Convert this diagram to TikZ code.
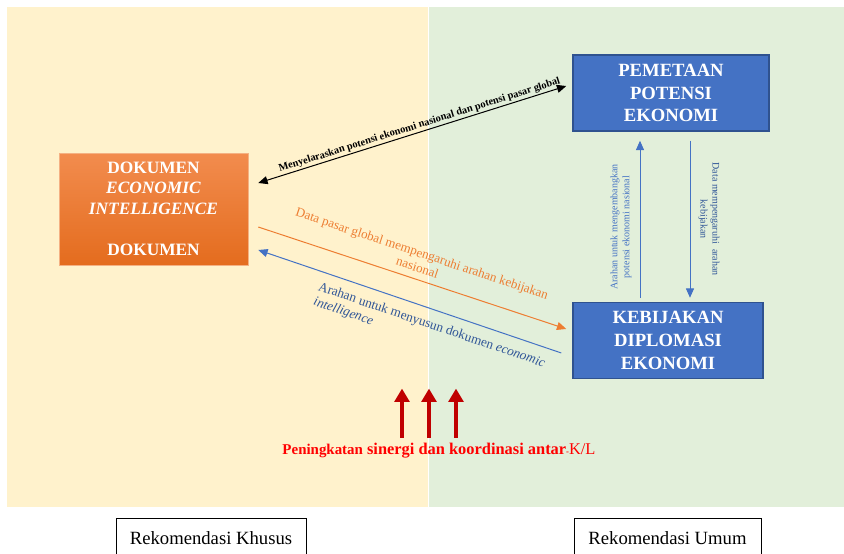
\documentclass[tikz,border=0pt]{standalone}
\usepackage{fontspec}
\setmainfont{Liberation Serif}
\usepackage{xcolor}
\usetikzlibrary{arrows.meta,positioning,calc}

\definecolor{bgkuning}{HTML}{FFF2CC}
\definecolor{bghijau}{HTML}{E2EFDA}
\definecolor{oranye}{HTML}{ED7D31}
\definecolor{oranyeatas}{HTML}{F28C4E}
\definecolor{oranyebawah}{HTML}{E46C1E}
\definecolor{biru}{HTML}{4472C4}
\definecolor{birutepi}{HTML}{2F528F}
\definecolor{birutua}{HTML}{2F5597}
\definecolor{merahtua}{HTML}{C00000}

\begin{document}
\begin{tikzpicture}[
  x=0.75pt, y=-0.75pt,
  >={Triangle[width=6pt,length=7pt]},
  every node/.style={inner sep=2pt},
  bluebox/.style={draw=birutepi, line width=1.1pt, fill=biru, text=white, align=center,
    minimum width=147pt, minimum height=57pt, font=\fontsize{14}{17}\selectfont\bfseries},
  docbox/.style={draw=oranye!60!white, top color=oranyeatas, bottom color=oranyebawah, text=white,
    align=center, minimum width=141.75pt, minimum height=84pt, font=\fontsize{13}{15.5}\selectfont\bfseries},
  tagbox/.style={draw=black, line width=0.6pt, minimum width=142.5pt, minimum height=30pt,
    anchor=north, font=\fontsize{14}{16}\selectfont},
  flow/.style={line width=0.75pt},
  lift/.style={-{Triangle[width=11pt,length=10pt]}, line width=3.3pt, merahtua},
  note/.style={font=\fontsize{7.5}{9}\selectfont, align=center}
]
\useasboundingbox (0,0) rectangle (844,554);

% two halves of the background
\fill[bgkuning] (7,7) rectangle (427.5,507);
\fill[bghijau] (429,7) rectangle (844,507);

% main boxes
\node[docbox] (dok) at (153.5,209) {DOKUMEN\\\textit{ECONOMIC}\\\textit{INTELLIGENCE}\\[15.5pt]DOKUMEN};
\node[bluebox] (pem) at (671,93) {PEMETAAN\\POTENSI\\EKONOMI};
\node[bluebox, minimum width=142.5pt, below=127.5pt of pem.south west, anchor=north west] (keb) {KEBIJAKAN\\DIPLOMASI\\EKONOMI};

% labels under the halves
\node[tagbox] (khusus) at (211,518) {Rekomendasi Khusus};
\node[tagbox, minimum width=140.25pt] (umum) at (667.5,518) {Rekomendasi Umum};

% end points of the connectors
\coordinate (dokA) at ($(dok.east)+(10,-26)$);
\coordinate (pemA) at ($(pem.west)+(-6,-7)$);
\coordinate (dokB) at ($(dok.east)+(10,18)$);
\coordinate (kebB) at ($(keb.west)+(-6,-11.5)$);
\coordinate (dokC) at ($(dok.east)+(10,41)$);
\coordinate (kebC) at ($(keb.west)+(-11,12.5)$);
\coordinate (kebU) at ($(keb.north)+(-28,-4)$);
\coordinate (pemU) at ($(pem.south)+(-31,9)$);
\coordinate (pemD) at ($(pem.south)+(19,9)$);
\coordinate (kebD) at ($(keb.north)+(22,-4)$);

\draw[flow, <->] (dokA) -- node[sloped, above, pos=0.53, inner sep=1pt, font=\fontsize{7.8}{9.5}\selectfont\bfseries] (selaras)
  {Menyelaraskan potensi ekonomi nasional dan potensi pasar global} (pemA);
\draw[flow, ->, oranye] (dokB) -- node[sloped, above, pos=0.505, inner ysep=5pt, align=center, text=oranye, font=\fontsize{9.8}{11}\selectfont] (pasar)
  {Data pasar global mempengaruhi arahan kebijakan\\nasional} (kebB);
\draw[flow, <-, biru] (dokC) -- node[sloped, pos=0.215, anchor=north west, inner xsep=0pt, inner ysep=7pt, align=left,
  text=birutua, font=\fontsize{10}{11.5}\selectfont] (arahan)
  {Arahan untuk menyusun dokumen \textit{economic}\\\textit{intelligence}} (kebC);

\draw[flow, ->, biru] (kebU) -- node[note, pos=0.45, rotate=90, anchor=south, inner sep=6pt, text=biru] (kembang)
  {Arahan untuk mengembangkan\\potensi ekonomi nasional} (pemU);
\draw[flow, ->, biru] (pemD) -- node[note, midway, rotate=-90, anchor=south, inner sep=6pt, text=birutua] (datapeng)
  {Data mempengaruhi\ \ arahan\\kebijakan} (kebD);

% red text with the three arrows
\node[text=red, font=\fontsize{12.3}{14}\selectfont\bfseries] (sinergi) at (439,451)
  {{\fontsize{11.2}{13}\selectfont Peningkatan} sinergi dan koordinasi antar{\fontsize{6.5}{7}\selectfont-}\textmd{K/L}};
\foreach \dx in {-37,-10,17}
  \draw[lift] ($(sinergi.north)+(\dx,-3)$) -- ++(0,-49);

\end{tikzpicture}
\end{document}
